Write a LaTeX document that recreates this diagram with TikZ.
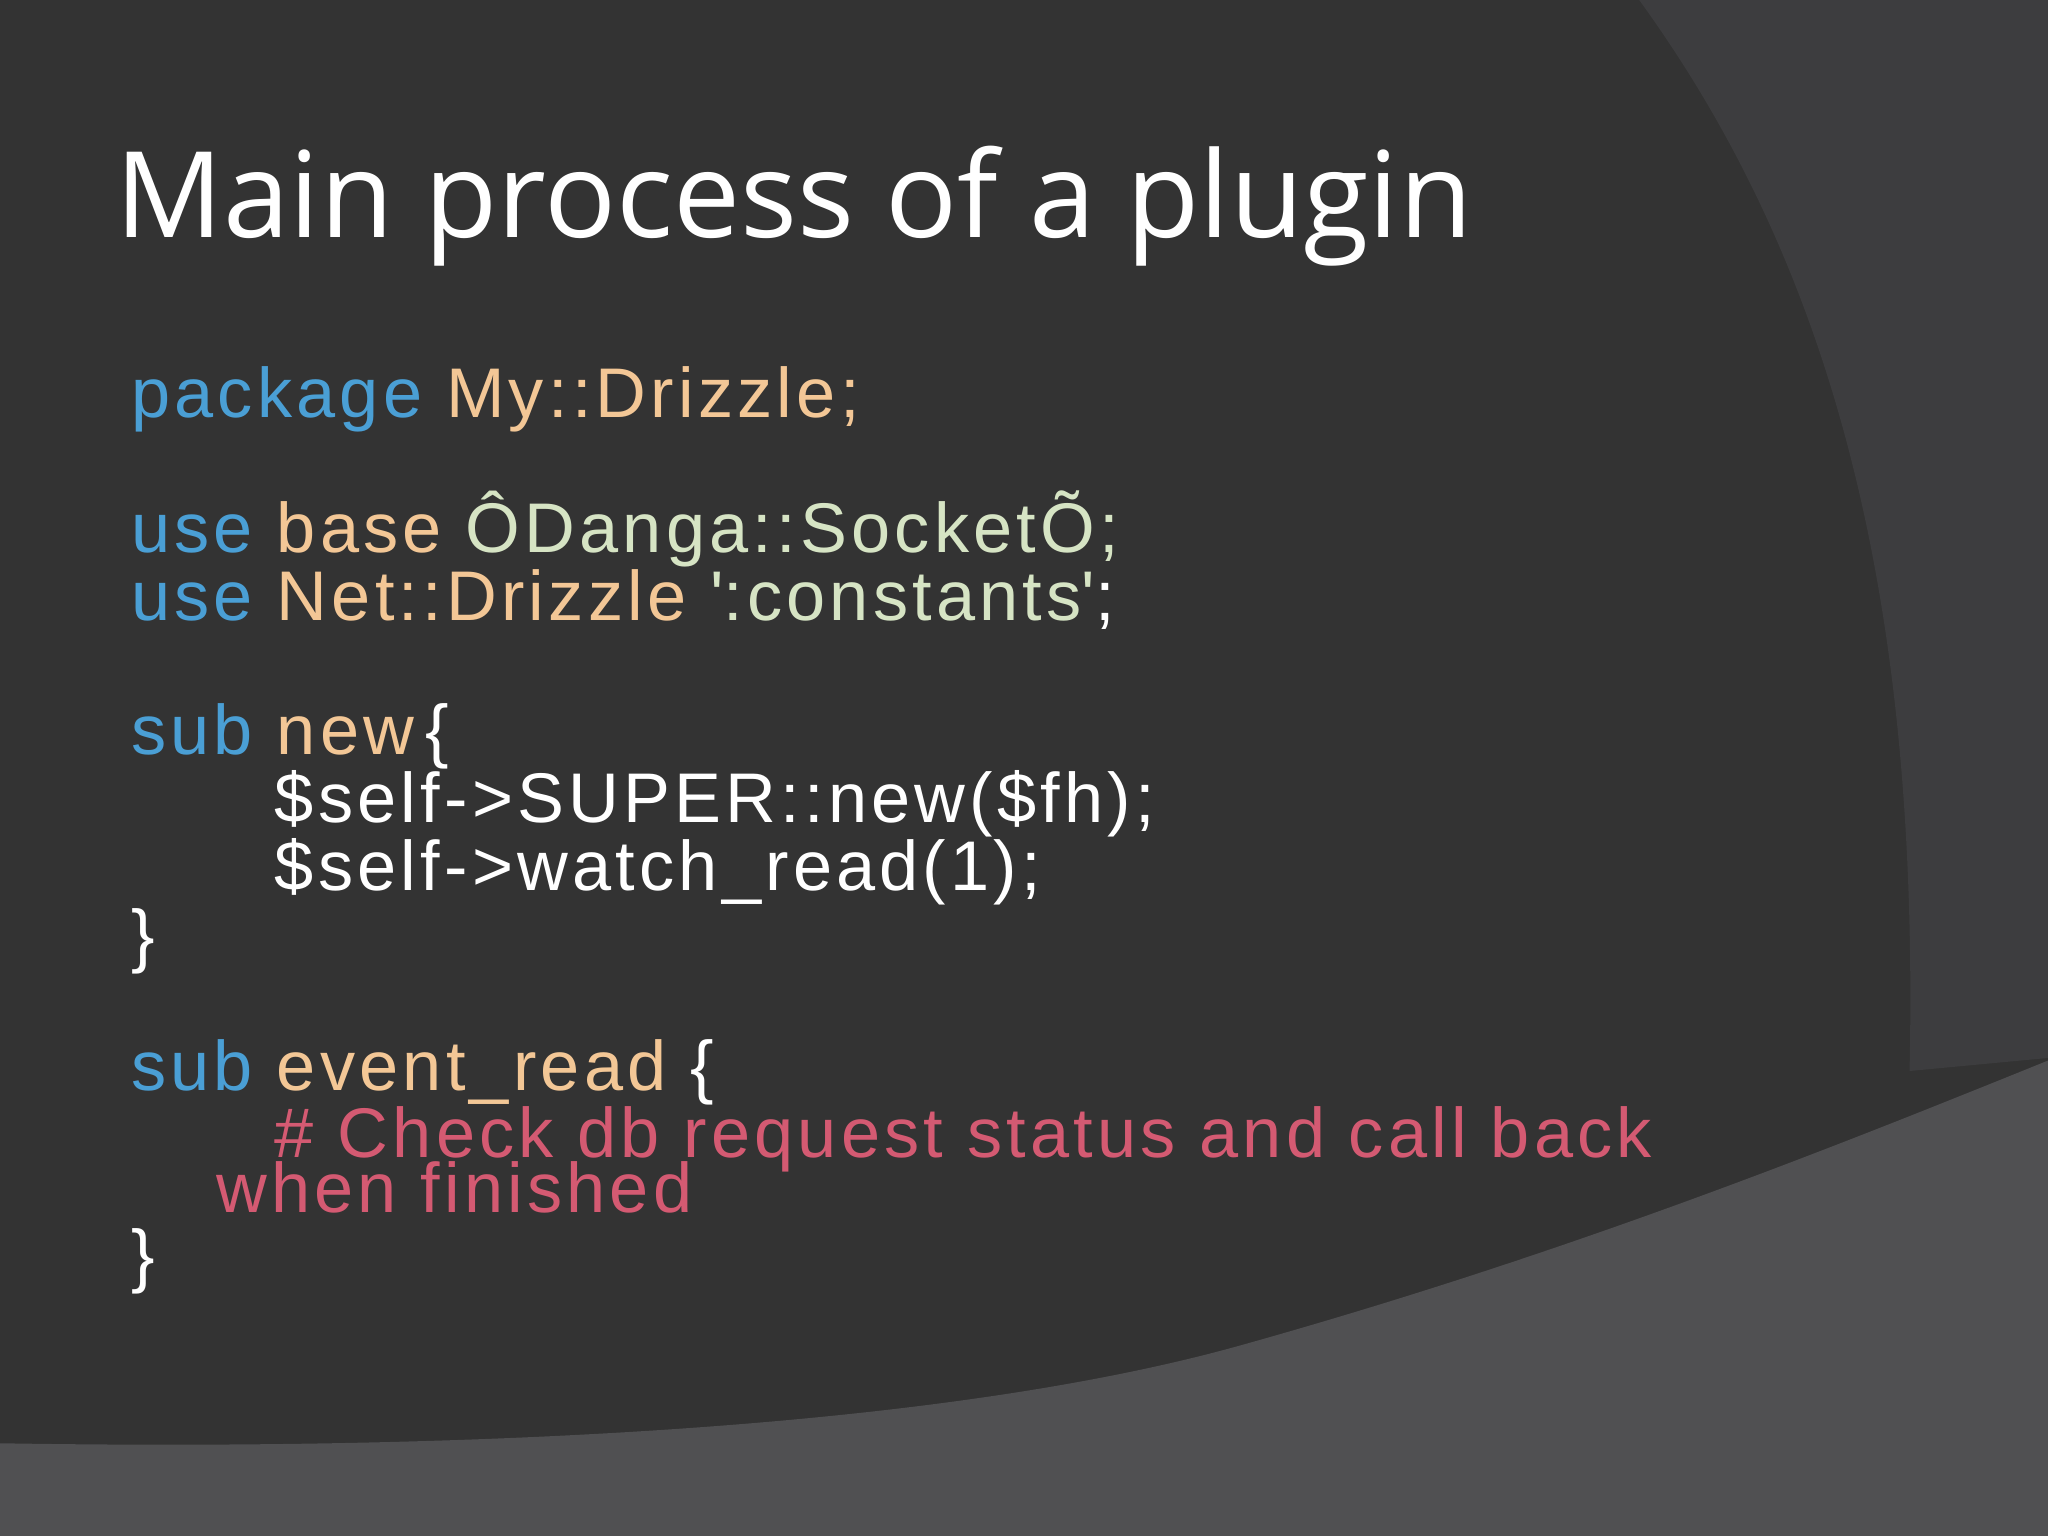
\documentclass[tikz,border=0pt]{standalone}
\usepackage{fontspec}
\setmainfont{Liberation Sans}
\newfontfamily\codefont[LetterSpace=6]{Liberation Sans}
\newfontfamily\titlefont{Open Sans}
\definecolor{bgA}{HTML}{333333}
\definecolor{bgB}{HTML}{3D3D3F}
\definecolor{bgC}{HTML}{505052}
\definecolor{kw}{HTML}{4A9FD5}
\definecolor{pe}{HTML}{F3C796}
\definecolor{gr}{HTML}{D6E4C4}
\definecolor{pk}{HTML}{D45A72}
\begin{document}
\begin{tikzpicture}[x=0.013061cm,y=-0.013061cm,
  code/.style={anchor=base west,inner sep=0pt,font=\codefont\fontsize{20}{24}\selectfont,text=white}]
\fill[bgA] (0,0) rectangle (1568,1176);
\useasboundingbox (0,0) rectangle (1568,1176);
\fill[bgB] (1255,0) .. controls (1400,200) and (1470,450) .. (1462,820) -- (1568,810) -- (1568,0) -- cycle;
\fill[bgC] (0,1105) .. controls (300,1110) and (700,1100) .. (950,1030) .. controls (1200,960) and (1400,880) .. (1568,812) -- (1568,1176) -- (0,1176) -- cycle;
\node[anchor=base west,inner sep=0pt,text=white,font=\titlefont\fontsize{34}{40}\selectfont] (title) at (88,182) {Main process of a plugin};
\node[code] (l1) at (100,320) {\textcolor{kw}{package} \textcolor{pe}{My::Drizzle;}};
\node[code] (l2) at (100,423) {\textcolor{kw}{use} \textcolor{pe}{base} \textcolor{gr}{ÔDanga::SocketÕ;}};
\node[code] (l3) at (100,475) {\textcolor{kw}{use} \textcolor{pe}{Net::Drizzle} \textcolor{gr}{\textquotesingle:constants\textquotesingle};};
\node[code] (l4) at (100,578) {\textcolor{kw}{sub} \textcolor{pe}{new}\,\{};
\node[code] (l5) at (210,630) {\$self->SUPER::new(\$fh);};
\node[code] (l6) at (210,682) {\$self->watch\_read(1);};
\node[code] (l7) at (100,735) {\}};
\node[code] (l8) at (100,835) {\textcolor{kw}{sub} \textcolor{pe}{event\_read} \{};
\node[code,text=pk] (l9) at (210,886) {\# Check db request status and call back};
\node[code,text=pk] (l10) at (165,928) {when finished};
\node[code] (l11) at (100,980) {\}};
\end{tikzpicture}
\end{document}
